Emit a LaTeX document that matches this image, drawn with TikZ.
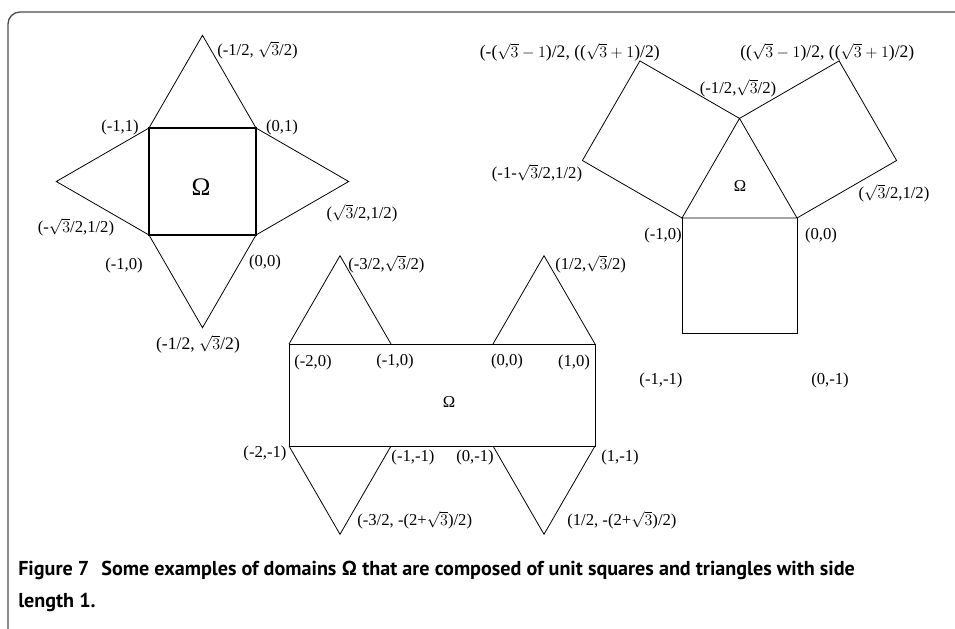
\documentclass[tikz,border=0pt]{standalone}
\usepackage{fontspec}
\setmainfont{Liberation Serif}
\newfontfamily\capfont{PT Sans}
\begin{document}
\begin{tikzpicture}[x=0.75pt,y=-0.75pt,
  lbl/.style={inner sep=0pt, font=\fontsize{12.5}{14}\selectfont},
  biglbl/.style={inner sep=0pt, font=\fontsize{13.2}{15}\selectfont},
  omg/.style={inner sep=0pt, font=\fontsize{12.5}{14}\selectfont},
  bigomg/.style={inner sep=0pt, font=\fontsize{19}{22}\selectfont},
  edge/.style={draw=black, line width=0.6pt, line join=miter},
  sqedge/.style={draw=black, line width=1pt, line join=miter},
  frame/.style={draw=black!70, line width=1pt, rounded corners=9pt},
  captext/.style={inner sep=0pt, anchor=west, font=\capfont\bfseries\fontsize{15.1}{18}\selectfont}]
\useasboundingbox (0,0) rectangle (955,628);
\draw[frame] (8,640) -- (8,12) -- (965,12);

% ---------- left figure ----------
\coordinate (la) at (149,128);
\coordinate (lb) at (256,128);
\coordinate (lc) at (256,235);
\coordinate (ld) at (149,235);
\coordinate (lt) at (202.5,35.3);
\coordinate (ll) at (56.3,181.5);
\coordinate (lr) at (348.7,181.5);
\coordinate (lbt) at (202.5,327.7);
\draw[edge] (la) -- (lt) -- (lb);
\draw[edge] (la) -- (ll) -- (ld);
\draw[edge] (lb) -- (lr) -- (lc);
\draw[edge] (ld) -- (lbt) -- (lc);
\draw[sqedge] (la) -- (lb) -- (lc) -- (ld) -- cycle;
\node[bigomg] (lom) at (201,187) {Ω};
\node[lbl, anchor=west] (l1) at (217,50) {(-1/2, $\sqrt{3}$/2)};
\node[lbl] (l2) at (120,127) {(-1,1)};
\node[lbl] (l3) at (282,127) {(0,1)};
\node[lbl] (l4) at (76,227) {(-$\sqrt{3}$/2,1/2)};
\node[lbl] (l5) at (362,213) {($\sqrt{3}$/2,1/2)};
\node[lbl] (l6) at (124,265) {(-1,0)};
\node[lbl] (l7) at (265,262) {(0,0)};
\node[biglbl] (l8) at (198,344) {(-1/2, $\sqrt{3}$/2)};

% ---------- middle figure ----------
\coordinate (p1) at (289,344);
\coordinate (p2) at (391,344);
\coordinate (p3) at (493,344);
\coordinate (p4) at (595,344);
\coordinate (q1) at (289,446);
\coordinate (q2) at (391,446);
\coordinate (q3) at (493,446);
\coordinate (q4) at (595,446);
\coordinate (mt1) at (340,255.7);
\coordinate (mt2) at (544,255.7);
\coordinate (mb1) at (340,534.3);
\coordinate (mb2) at (544,534.3);
\draw[edge] (p1) -- (p4) -- (q4) -- (q1) -- cycle;
\draw[edge] (p1) -- (mt1) -- (p2);
\draw[edge] (p3) -- (mt2) -- (p4);
\draw[edge] (q1) -- (mb1) -- (q2);
\draw[edge] (q3) -- (mb2) -- (q4);
\node[omg] (mom) at (449,402) {Ω};
\node[lbl, anchor=west] (m1) at (348,264) {(-3/2,$\sqrt{3}$/2)};
\node[lbl, anchor=west] (m2) at (555,264) {(1/2,$\sqrt{3}$/2)};
\node[lbl] (m3) at (313,362) {(-2,0)};
\node[lbl] (m4) at (395,361) {(-1,0)};
\node[lbl] (m5) at (507,361) {(0,0)};
\node[lbl] (m6) at (574,362) {(1,0)};
\node[lbl] (m7) at (265,453) {(-2,-1)};
\node[lbl] (m8) at (413,457) {(-1,-1)};
\node[lbl] (m9) at (475,457) {(0,-1)};
\node[lbl] (m10) at (620,457) {(1,-1)};
\node[lbl, anchor=west] (m11) at (357,520) {(-3/2, -(2+$\sqrt{3}$)/2)};
\node[lbl, anchor=west] (m12) at (567,520) {(1/2, -(2+$\sqrt{3}$)/2)};

% ---------- right figure ----------
\coordinate (ra) at (682,218);
\coordinate (rb) at (797,218);
\coordinate (rt) at (739.5,118.4);
\coordinate (rc) at (797,333);
\coordinate (rd) at (682,333);
\coordinate (rl1) at (582.4,160.5);
\coordinate (rl2) at (639.9,60.9);
\coordinate (rr1) at (839.1,60.9);
\coordinate (rr2) at (896.6,160.5);
\draw[edge] (ra) -- (rt) -- (rb) -- cycle;
\draw[edge] (ra) -- (rd) -- (rc) -- (rb);
\draw[edge] (ra) -- (rl1) -- (rl2) -- (rt);
\draw[edge] (rt) -- (rr1) -- (rr2) -- (rb);
\node[omg] (rom) at (740,186) {Ω};
\node[biglbl, anchor=east] (r1) at (660,52) {(-($\sqrt{3}-1$)/2, (($\sqrt{3}+1$)/2)};
\node[biglbl, anchor=west] (r2) at (740,52) {(($\sqrt{3}-1$)/2, (($\sqrt{3}+1$)/2)};
\node[lbl] (r3) at (738,88) {(-1/2,$\sqrt{3}$/2)};
\node[lbl] (r4) at (537,173) {(-1-$\sqrt{3}$/2,1/2)};
\node[lbl] (r5) at (894,193) {($\sqrt{3}$/2,1/2)};
\node[lbl] (r6) at (663,235) {(-1,0)};
\node[lbl] (r7) at (821,235) {(0,0)};
\node[lbl] (r8) at (661,380) {(-1,-1)};
\node[lbl] (r9) at (830,380) {(0,-1)};

% ---------- caption ----------
\node[captext] (c1) at (18,570) {Figure 7\hspace{0.6em}Some examples of domains Ω that are composed of unit squares and triangles with side};
\node[captext] (c2) at (18,602) {length 1.};
\end{tikzpicture}
\end{document}
